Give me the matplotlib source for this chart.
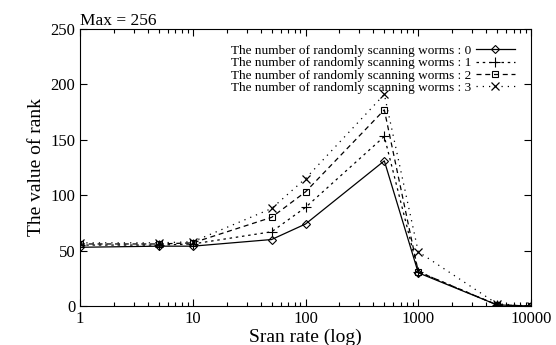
import matplotlib
matplotlib.use("Agg")
import matplotlib.pyplot as plt
from matplotlib.ticker import LogLocator, FixedLocator, NullFormatter

plt.rcParams['font.family'] = ['Liberation Serif', 'DejaVu Serif']

scan_rates = [1, 5, 10, 50, 100, 500, 1000, 5000, 10000]
rank_0 = [53, 54, 54, 60, 74, 131, 30, 1, 0]
rank_1 = [55, 55, 56, 67, 89, 153, 31, 1, 0]
rank_2 = [56, 56, 57, 80, 103, 177, 31, 1, 0]
rank_3 = [57, 57, 58, 88, 115, 191, 49, 2, 0]

labels = ["The number of randomly scanning worms : 0",
          "The number of randomly scanning worms : 1",
          "The number of randomly scanning worms : 2",
          "The number of randomly scanning worms : 3"]

fig = plt.figure(figsize=(5.56, 3.45), dpi=100)
ax = fig.add_axes([0.144, 0.113, 0.811, 0.803])

ax.plot(scan_rates, rank_0, color='black', lw=0.9, ls='-', marker='D',
        ms=4, mfc='none', mew=0.8, label=labels[0])
ax.plot(scan_rates, rank_1, color='black', lw=0.9, ls=(0, (2, 3)), marker='+',
        ms=7, mew=0.8, label=labels[1])
ax.plot(scan_rates, rank_2, color='black', lw=0.9, ls=(0, (4, 3)), marker='s',
        ms=5, mfc='none', mew=0.8, label=labels[2])
ax.plot(scan_rates, rank_3, color='black', lw=0.9, ls=(0, (1, 4)), marker='x',
        ms=6, mew=0.9, label=labels[3])

ax.set_xscale('log')
ax.set_xlim(1, 10000)
ax.set_ylim(0, 250)
ax.xaxis.set_major_locator(FixedLocator([1, 10, 100, 1000, 10000]))
ax.xaxis.set_minor_locator(LogLocator(base=10, subs=range(2, 10)))
ax.xaxis.set_minor_formatter(NullFormatter())
ax.set_xticklabels(['1', '10', '100', '1000', '10000'])
ax.set_yticks([0, 50, 100, 150, 200, 250])

ax.tick_params(axis='both', which='both', direction='in', top=True, right=True,
               labelsize=12, width=0.8)
ax.tick_params(which='major', length=5)
ax.tick_params(which='minor', length=3)
for s in ax.spines.values():
    s.set_linewidth(0.8)

ax.set_xlabel("Sran rate (log)", fontsize=14, labelpad=1)
ax.set_ylabel("The value of rank", fontsize=14, labelpad=4)
ax.set_title("Max = 256", fontsize=12.5, loc='left', pad=3)

ax.legend(loc='upper right', frameon=False, markerfirst=False, fontsize=9.5,
          handlelength=3.0, labelspacing=0.0, borderaxespad=0.8,
          handletextpad=0.3)

fig.savefig("out.png", dpi=100)
